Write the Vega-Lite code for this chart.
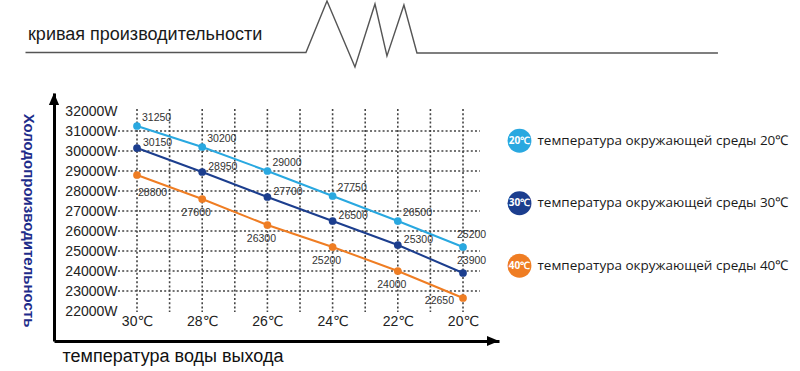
{
  "$schema": "https://vega.github.io/schema/vega-lite/v6.json",
  "width": 445,
  "height": 248,
  "autosize": {"type": "none"},
  "padding": {"left": 54, "top": 93, "right": 301, "bottom": 30},
  "background": "white",
  "config": {"view": {"stroke": null}, "font": "Liberation Sans, DejaVu Sans", "axis": {"labelOverlap": false, "labelBound": false}, "axisY": {"tickCount": 12}},
  "resolve": {"scale": {"x": "independent", "y": "independent"}},
  "layer": [
    {
      "data": {"values": [
        {"water": 30, "amb": "20℃", "power": 31250},
        {"water": 28, "amb": "20℃", "power": 30200},
        {"water": 26, "amb": "20℃", "power": 29000},
        {"water": 24, "amb": "20℃", "power": 27750},
        {"water": 22, "amb": "20℃", "power": 26500},
        {"water": 20, "amb": "20℃", "power": 25200},
        {"water": 30, "amb": "30℃", "power": 30150},
        {"water": 28, "amb": "30℃", "power": 28950},
        {"water": 26, "amb": "30℃", "power": 27700},
        {"water": 24, "amb": "30℃", "power": 26500},
        {"water": 22, "amb": "30℃", "power": 25300},
        {"water": 20, "amb": "30℃", "power": 23900},
        {"water": 30, "amb": "40℃", "power": 28800},
        {"water": 28, "amb": "40℃", "power": 27600},
        {"water": 26, "amb": "40℃", "power": 26300},
        {"water": 24, "amb": "40℃", "power": 25200},
        {"water": 22, "amb": "40℃", "power": 24000},
        {"water": 20, "amb": "40℃", "power": 22650}
      ]},
      "layer": [
        {
          "data": {"values": [{"g": 23000}, {"g": 24000}, {"g": 25000}, {"g": 26000}, {"g": 27000}, {"g": 28000}, {"g": 29000}, {"g": 30000}, {"g": 31000}]},
          "mark": {"type": "rule", "stroke": "#444", "strokeWidth": 1.6, "strokeDash": [2, 2.2]},
          "encoding": {
            "y": {"field": "g", "type": "quantitative",
              "scale": {"domain": [20500, 32900], "nice": false, "zero": false},
              "axis": {"values": [22000, 23000, 24000, 25000, 26000, 27000, 28000, 29000, 30000, 31000, 32000], "tickCount": 12,
                "labelExpr": "datum.value < 22000 ? '' : datum.value + 'W'",
                "title": "Холодопроизводительность", "domainColor": "#000", "domainWidth": 3, "ticks": false, "tickSize": 0, "grid": false,
                "labelAlign": "right", "labelPadding": -63, "labelBaseline": "middle", "labelFontSize": 14, "labelColor": "#222",
                "labelFlush": false, "labelOverlap": false, "labelSeparation": 0,
                "titleAngle": 90, "titleX": -25.5, "titleY": 127, "titleAlign": "center", "titleBaseline": "middle", "titleAnchor": null,
                "titleFontSize": 15, "titleFontWeight": "bold", "titleColor": "#1e2c8a"}},
            "x": {"datum": 30.583, "type": "quantitative",
              "scale": {"domain": [18.896, 32.546], "reverse": true, "nice": false, "zero": false},
              "axis": {"values": [20, 22, 24, 26, 28, 30], "labelExpr": "datum.value + '℃'", "title": "температура воды выхода",
                "domainColor": "#000", "domainWidth": 3, "ticks": false, "tickSize": 0, "grid": false,
                "labelPadding": -20, "labelBaseline": "middle", "labelAlign": "center", "labelDx": 2, "labelFontSize": 14, "labelColor": "#222",
                "labelFlush": false, "labelOverlap": false,
                "titleFontSize": 18, "titleFontWeight": "normal", "titleColor": "#111", "titleAlign": "left", "titleAnchor": "start",
                "titleX": 8, "titleY": 15, "titleBaseline": "middle"}},
            "x2": {"datum": 19.48}
          }
        },
        {
          "data": {"values": [{"g": 20}, {"g": 21}, {"g": 22}, {"g": 23}, {"g": 24}, {"g": 25}, {"g": 26}, {"g": 27}, {"g": 28}, {"g": 29}, {"g": 30}]},
          "mark": {"type": "rule", "stroke": "#444", "strokeWidth": 1.6, "strokeDash": [2, 2.2]},
          "encoding": {
            "x": {"field": "g", "type": "quantitative"},
            "y": {"datum": 32100, "type": "quantitative"},
            "y2": {"datum": 21950}
          }
        },
        {
          "mark": {"type": "line", "strokeWidth": 2},
          "encoding": {
            "x": {"field": "water", "type": "quantitative"},
            "y": {"field": "power", "type": "quantitative"},
            "color": {"field": "amb", "type": "nominal", "legend": null,
              "scale": {"domain": ["20℃", "30℃", "40℃"], "range": ["#29a8e0", "#1c3e8e", "#ef7d23"]}}
          }
        },
        {
          "mark": {"type": "point", "filled": true, "opacity": 1, "size": 60},
          "encoding": {
            "x": {"field": "water", "type": "quantitative"},
            "y": {"field": "power", "type": "quantitative"},
            "color": {"field": "amb", "type": "nominal", "legend": null}
          }
        },
        {
          "transform": [{"filter": "datum.amb === '20℃' && datum.water > 20"}],
          "mark": {"type": "text", "align": "left", "baseline": "middle", "dx": 5, "dy": -8, "fontSize": 10.5, "fill": "#333"},
          "encoding": {
            "x": {"field": "water", "type": "quantitative"},
            "y": {"field": "power", "type": "quantitative"},
            "text": {"field": "power", "type": "quantitative", "format": "d"}
          }
        },
        {
          "transform": [{"filter": "datum.amb === '30℃' && datum.water > 20"}],
          "mark": {"type": "text", "align": "left", "baseline": "middle", "dx": 6, "dy": -5, "fontSize": 10.5, "fill": "#333"},
          "encoding": {
            "x": {"field": "water", "type": "quantitative"},
            "y": {"field": "power", "type": "quantitative"},
            "text": {"field": "power", "type": "quantitative", "format": "d"}
          }
        },
        {
          "transform": [{"filter": "datum.amb !== '40℃' && datum.water === 20"}],
          "mark": {"type": "text", "align": "left", "baseline": "middle", "dx": -6, "dy": -12, "fontSize": 10.5, "fill": "#333"},
          "encoding": {
            "x": {"field": "water", "type": "quantitative"},
            "y": {"field": "power", "type": "quantitative"},
            "text": {"field": "power", "type": "quantitative", "format": "d"}
          }
        },
        {
          "transform": [{"filter": "datum.amb === '40℃' && datum.water > 20 && datum.water < 30"}],
          "mark": {"type": "text", "align": "center", "baseline": "middle", "dx": -6, "dy": 14, "fontSize": 10.5, "fill": "#333"},
          "encoding": {
            "x": {"field": "water", "type": "quantitative"},
            "y": {"field": "power", "type": "quantitative"},
            "text": {"field": "power", "type": "quantitative", "format": "d"}
          }
        },
        {
          "transform": [{"filter": "datum.amb === '40℃' && datum.water === 30"}],
          "mark": {"type": "text", "align": "left", "baseline": "middle", "dx": 1, "dy": 18, "fontSize": 10.5, "fill": "#333"},
          "encoding": {
            "x": {"field": "water", "type": "quantitative"},
            "y": {"field": "power", "type": "quantitative"},
            "text": {"field": "power", "type": "quantitative", "format": "d"}
          }
        },
        {
          "transform": [{"filter": "datum.amb === '40℃' && datum.water === 20"}],
          "mark": {"type": "text", "align": "right", "baseline": "middle", "dx": -9, "dy": 3, "fontSize": 10.5, "fill": "#333"},
          "encoding": {
            "x": {"field": "water", "type": "quantitative"},
            "y": {"field": "power", "type": "quantitative"},
            "text": {"field": "power", "type": "quantitative", "format": "d"}
          }
        },
        {
          "data": {"values": [{"arrow": "up"}]},
          "mark": {"type": "point", "filled": true, "opacity": 1, "fill": "#000", "strokeWidth": 0, "size": 144, "shape": "M0,0L0.85,2L-0.85,2Z"},
          "encoding": {
            "x": {"datum": 32.546, "type": "quantitative"},
            "y": {"datum": 32900, "type": "quantitative"}
          }
        },
        {
          "data": {"values": [{"arrow": "right"}]},
          "mark": {"type": "point", "filled": true, "opacity": 1, "fill": "#000", "strokeWidth": 0, "size": 144, "shape": "M0,0L-2,-0.85L-2,0.85Z"},
          "encoding": {
            "x": {"datum": 18.896, "type": "quantitative"},
            "y": {"datum": 20500, "type": "quantitative"}
          }
        }
      ]
    },
    {
      "data": {"values": [
        {"amb": "20℃", "n": 20, "desc": "температура окружающей среды 20℃"},
        {"amb": "30℃", "n": 30, "desc": "температура окружающей среды 30℃"},
        {"amb": "40℃", "n": 40, "desc": "температура окружающей среды 40℃"}
      ]},
      "encoding": {
        "x": {"datum": 1, "type": "quantitative", "axis": null, "scale": {"domain": [0, 0.956], "nice": false, "zero": false}},
        "y": {"field": "n", "type": "quantitative", "axis": null, "scale": {"domain": [12.368, 52.048], "reverse": true, "nice": false, "zero": false}}
      },
      "layer": [
        {
          "mark": {"type": "point", "filled": true, "opacity": 1, "size": 570},
          "encoding": {"color": {"field": "amb", "type": "nominal", "legend": null}}
        },
        {
          "mark": {"type": "text", "align": "center", "baseline": "middle", "fontSize": 10, "fontWeight": "bold", "fill": "white", "font": "Open Sans", "letterSpacing": -0.6},
          "encoding": {"text": {"field": "amb"}}
        },
        {
          "mark": {"type": "text", "align": "left", "baseline": "middle", "fontSize": 13.5, "fill": "#1a1a1a", "font": "Open Sans", "dx": 18},
          "encoding": {"text": {"field": "desc"}}
        }
      ]
    },
    {
      "layer": [
        {
          "data": {"values": [
            {"u": 0, "v": 0}, {"u": 40.5, "v": 0}, {"u": 43.54, "v": 1.03}, {"u": 47.58, "v": -0.29},
            {"u": 50.47, "v": 0.97}, {"u": 52.2, "v": -0.07}, {"u": 54.65, "v": 0.95}, {"u": 56.53, "v": -0.01}, {"u": 100, "v": -0.01}
          ]},
          "mark": {"type": "line", "stroke": "#555", "strokeWidth": 1.4},
          "encoding": {
            "x": {"field": "u", "type": "quantitative", "axis": null, "scale": {"domain": [4.116, 68.38], "nice": false, "zero": false}},
            "y": {"field": "v", "type": "quantitative", "axis": null, "scale": {"domain": [-5.77, -0.81], "nice": false, "zero": false}}
          }
        },
        {
          "data": {"values": [{"t": "кривая производительности"}]},
          "mark": {"type": "text", "align": "left", "baseline": "alphabetic", "fontSize": 18, "fill": "#1a1a1a"},
          "encoding": {
            "x": {"datum": 0.36, "type": "quantitative", "axis": null},
            "y": {"datum": 0.25, "type": "quantitative", "axis": null},
            "text": {"field": "t"}
          }
        }
      ]
    }
  ]
}
